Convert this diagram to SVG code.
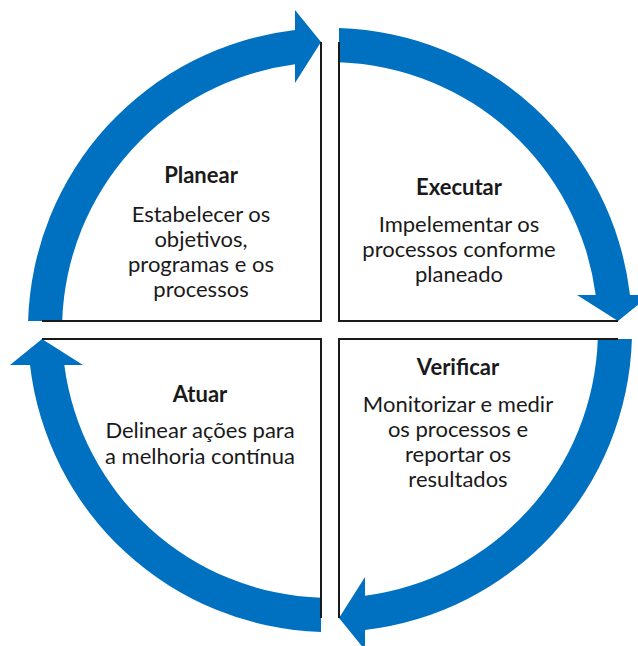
<svg xmlns="http://www.w3.org/2000/svg" width="638" height="646" viewBox="0 0 638 646">
<style>
.bg{fill:#ffffff}
.arrow{fill:#0070C0}
.edge{fill:none;stroke:#1a1a1a;stroke-width:2}
.t{font-family:Lato,"Open Sans","Liberation Sans",sans-serif;font-size:22px;fill:#1a1a1a;text-anchor:middle}
.h{font-weight:bold}
</style>
<defs>
<path id="arc" d="M -301.9,-9 A 302 302 0 0 1 -35,-300 L -35,-320 L -9,-288 L -35,-247 L -35,-265.7 A 268 268 0 0 0 -267.8,-9 Z"/>
<path id="box" d="M -9,-288 L -9,-9 L -288,-9"/>
</defs>
<rect class="bg" x="0" y="0" width="638" height="646"/>
<g id="connectors">
<use href="#arc" class="arrow" transform="translate(330,330)"/>
<use href="#arc" class="arrow" transform="translate(330,330) rotate(90)"/>
<use href="#arc" class="arrow" transform="translate(330,330) rotate(180)"/>
<use href="#arc" class="arrow" transform="translate(330,330) rotate(270)"/>
</g>
<g id="planear">
<use href="#box" class="edge" transform="translate(330,330)"/>
<text class="t h" x="201" y="183">Planear</text>
<text class="t" x="201" y="222">Estabelecer os</text>
<text class="t" x="201" y="247">objetivos,</text>
<text class="t" x="201" y="272">programas e os</text>
<text class="t" x="201" y="297">processos</text>
</g>
<g id="executar">
<use href="#box" class="edge" transform="translate(330,330) rotate(90)"/>
<text class="t h" x="459" y="195">Executar</text>
<text class="t" x="459" y="232">Impelementar os</text>
<text class="t" x="459" y="257">processos conforme</text>
<text class="t" x="459" y="282">planeado</text>
</g>
<g id="verificar">
<use href="#box" class="edge" transform="translate(330,330) rotate(180)"/>
<text class="t h" x="458" y="375">Verificar</text>
<text class="t" x="458" y="412">Monitorizar e medir</text>
<text class="t" x="458" y="437">os processos e</text>
<text class="t" x="458" y="462">reportar os</text>
<text class="t" x="458" y="487">resultados</text>
</g>
<g id="atuar">
<use href="#box" class="edge" transform="translate(330,330) rotate(270)"/>
<text class="t h" x="200" y="402">Atuar</text>
<text class="t" x="200" y="438">Delinear ações para</text>
<text class="t" x="200" y="464">a melhoria contínua</text>
</g>
</svg>
